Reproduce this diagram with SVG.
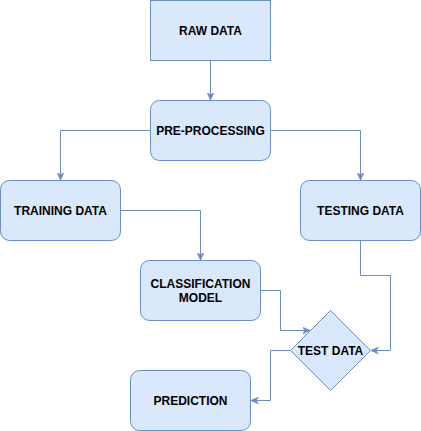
<svg xmlns="http://www.w3.org/2000/svg" width="421" height="431" viewBox="0 0 421 431">
<style>
.box{fill:#dae8fc;stroke:#6c8ebf;stroke-width:1}
.lbl{font-family:"Liberation Sans",Arial,sans-serif;font-size:12px;font-weight:bold;fill:#000;text-anchor:middle;dominant-baseline:central}
.edge{fill:none;stroke:#6c8ebf;stroke-width:1;marker-end:url(#arr)}
</style>
<defs>
<marker id="arr" viewBox="0 0 8 8" markerWidth="8" markerHeight="8" refX="7.5" refY="4" orient="auto" markerUnits="userSpaceOnUse">
<path d="M0,0.5 L8,4 L0,7.5 L2.2,4 Z" fill="#6c8ebf" stroke="#6c8ebf" stroke-width="0.5"/>
</marker>
</defs>
<rect width="421" height="431" fill="#fff"/>
<g id="edges">
<path class="edge" d="M210.5,60.5 V100"/>
<path class="edge" d="M150.5,130.5 H60.5 V180"/>
<path class="edge" d="M270.5,130.5 H360.5 V180"/>
<path class="edge" d="M120.5,210.5 H200.5 V260"/>
<path class="edge" d="M260.5,290.5 H280.5 V330.5 H310"/>
<path class="edge" d="M360.5,240.5 V275.5 H390.5 V350.5 H371"/>
<path class="edge" d="M290.5,350.5 H270.5 V400.5 H251"/>
</g>
<g id="raw-data">
<rect class="box" x="150.5" y="0.5" width="120" height="60"/>
<text class="lbl" x="210.5" y="30.5">RAW DATA</text>
</g>
<g id="pre-processing">
<rect class="box" x="150.5" y="100.5" width="120" height="60" rx="9" ry="9"/>
<text class="lbl" x="210.5" y="130.5">PRE-PROCESSING</text>
</g>
<g id="training-data">
<rect class="box" x="0.5" y="180.5" width="120" height="60" rx="9" ry="9"/>
<text class="lbl" x="60.5" y="210.5">TRAINING DATA</text>
</g>
<g id="testing-data">
<rect class="box" x="300.5" y="180.5" width="120" height="60" rx="9" ry="9"/>
<text class="lbl" x="360.5" y="210.5">TESTING DATA</text>
</g>
<g id="classification-model">
<rect class="box" x="140.5" y="260.5" width="120" height="60" rx="9" ry="9"/>
<text class="lbl" x="200.5" y="283.5">CLASSIFICATION</text>
<text class="lbl" x="200.5" y="297.5">MODEL</text>
</g>
<g id="test-data">
<path class="box" d="M330.5,310.5 L370.5,350.5 L330.5,390.5 L290.5,350.5 Z"/>
<text class="lbl" x="330.5" y="350.5">TEST DATA</text>
</g>
<g id="prediction">
<rect class="box" x="130.5" y="370.5" width="120" height="60" rx="9" ry="9"/>
<text class="lbl" x="190.5" y="400.5">PREDICTION</text>
</g>
</svg>
